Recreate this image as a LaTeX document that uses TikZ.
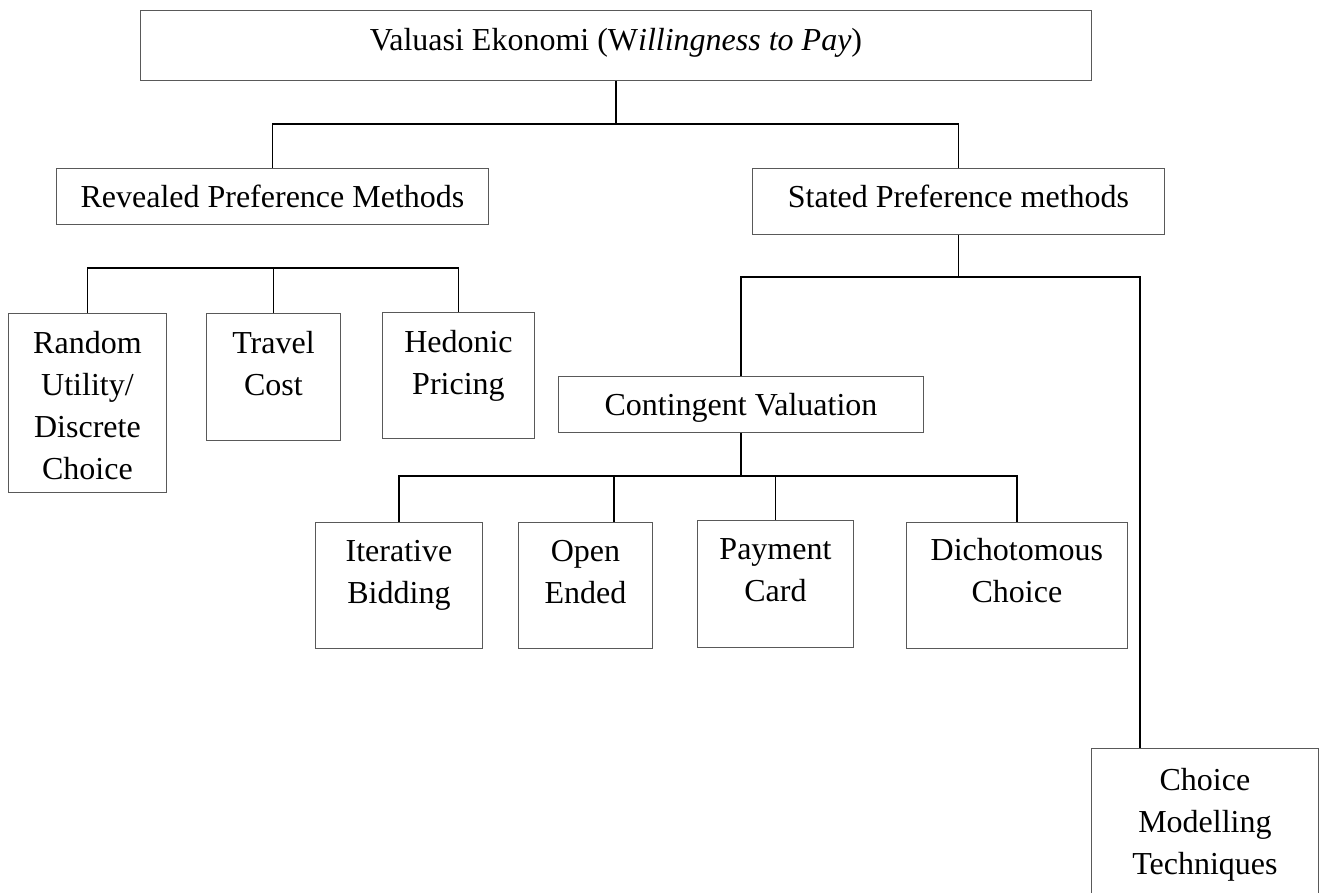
\documentclass[tikz,border=0pt]{standalone}
\usepackage{fontspec}
\setmainfont{Liberation Serif}
\usepackage{tikz}
\newlength{\valunit}
\setlength{\valunit}{1pt}
\tikzstyle{boxstyle}=[draw=black!65, line width=0.9pt, inner sep=0pt, align=flush center, anchor=north west, font=\fontsize{32}{42}\selectfont]
\tikzstyle{edgestyle}=[draw, line width=1.6pt]
% name, left, top, width, text height, text depth, text
\newcommand{\valbox}[7]{\node [boxstyle, text width=#4\valunit, text height=#5\valunit, text depth=#6\valunit] (#1) at (#2,#3) {#7};}

\begin{document}
\begin{tikzpicture}[x=\valunit, y=-\valunit]
\path [use as bounding box, fill=white] (0,0) rectangle (1319,892);
\clip (0,0) rectangle (1319,892);

\valbox{top}{140}{10}{951}{40}{30}{Valuasi Ekonomi (W\textit{illingness to Pay})}
\valbox{rpm}{56}{168}{432}{39}{17}{Revealed Preference Methods}
\valbox{spm}{752}{168}{412}{39}{27}{Stated Preference methods}
\valbox{rnd}{8}{313}{158}{40}{139}{Random\\Utility/\\Discrete\\Choice}
\valbox{trv}{206}{313}{134}{40}{87}{Travel\\Cost}
\valbox{hed}{382}{312}{152}{40}{86}{Hedonic\\Pricing}
\valbox{cv}{558}{376}{365}{39}{17}{Contingent Valuation}
\valbox{itb}{315}{522}{167}{39}{87}{Iterative\\Bidding}
\valbox{oe}{518}{522}{134}{39}{87}{Open\\Ended}
\valbox{pc}{697}{520}{156}{39}{88}{Payment\\Card}
\valbox{dc}{906}{522}{221}{38}{88}{Dichotomous\\Choice}
\valbox{cm}{1091}{748}{227}{42}{120}{Choice\\Modelling\\Techniques}

\coordinate (bus1) at (0,124);
\coordinate (bus2) at (0,268);
\coordinate (bus3) at (1140,277);
\coordinate (bus4) at (614,476);

\draw [edgestyle] (top.south) -- (top.south |- bus1) -| (rpm.north);
\draw [edgestyle] (top.south |- bus1) -| (spm.north);

\draw [edgestyle] (rnd.north) |- (bus2 -| hed.north) -- (hed.north);
\draw [edgestyle] (trv.north) -- (trv.north |- bus2);

\draw [edgestyle] (spm.south) -- (spm.south |- bus3);
\draw [edgestyle] (cv.north) |- (bus3) -- (bus3 |- cm.north);

\draw [edgestyle] (cv.south) -- (cv.south |- bus4);
\draw [edgestyle] (itb.north) |- (bus4 -| dc.north) -- (dc.north);
\draw [edgestyle] (bus4) -- (bus4 |- oe.north);
\draw [edgestyle] (pc.north) -- (pc.north |- bus4);
\end{tikzpicture}
\end{document}
